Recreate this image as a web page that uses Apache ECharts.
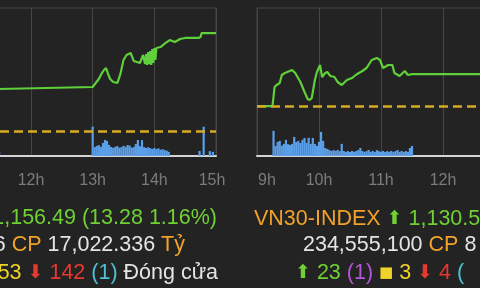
<!DOCTYPE html>
<html><head><meta charset="utf-8">
<script src="https://cdn.jsdelivr.net/npm/echarts@6/dist/echarts.min.js"></script>
<style>
html,body{margin:0;padding:0;width:480px;height:288px;overflow:hidden;background:#232323;}
#c{position:absolute;left:-200px;top:0;width:900px;height:288px;}
</style></head><body><div id="c"></div>
<script>
// Tick labels (9h .. 15h), x values are minutes since midnight
const hourLabels = ['9h','10h','11h','12h','13h','14h','15h'];

// VN-INDEX (left panel)
const vnRef = 1143.21;
const vnTimes = [689,690,780,783,786,789,791,793,795,797,800,804,807,810,813,817,820,823,826,829,831,832,833,834,835,836,837,838,839,840,841,842,846,851,855,860,865,870,876,883,885,886,900];
const vnValues = [1148.90,1149.17,1149.17,1149.71,1150.26,1151.07,1151.48,1151.75,1150.94,1150.26,1149.85,1149.71,1150.94,1152.84,1153.52,1153.79,1152.70,1152.57,1152.43,1153.52,1152.29,1153.65,1152.16,1153.92,1152.29,1154.06,1152.16,1154.33,1152.43,1154.47,1152.84,1154.47,1154.60,1155.15,1155.55,1155.28,1155.69,1155.83,1155.83,1155.83,1155.96,1156.49,1156.49];
const vnVolTimes = [689,780,782,784,786,788,790,792,794,796,798,800,802,804,806,808,810,812,814,816,818,820,822,824,826,828,830,832,834,836,838,840,842,844,846,848,850,852,854,884,888,894,897];
const vnVolumes = [140,990,300,340,370,310,440,545,510,375,305,275,310,335,280,300,345,310,370,350,280,300,405,540,330,535,300,270,295,265,240,270,235,260,210,230,200,180,140,170,990,165,140];

// VN30-INDEX (right panel)
const vn30Ref = 1121.32;
const vn30Times = [540,555,557,559,562,564,567,574,577,582,586,589,591,593,596,598,601,603,606,608,611,615,618,622,627,632,637,642,646,651,656,659,662,667,671,673,678,683,686,690,900];
const vn30Values = [1121.32,1121.32,1126.82,1127.39,1127.96,1130.26,1130.84,1131.70,1130.84,1128.25,1125.38,1123.37,1123.08,1123.66,1128.83,1131.12,1133.13,1129.69,1130.84,1131.12,1129.98,1129.69,1128.25,1127.39,1128.83,1129.40,1130.55,1131.41,1132.27,1134.57,1135.14,1134.57,1132.27,1133.13,1133.13,1130.84,1129.98,1131.41,1130.26,1130.52,1130.52];
const vn30VolTimes = [556,558,560,562,564,566,568,570,572,574,576,578,580,582,584,586,588,590,592,594,596,598,600,602,604,606,608,610,612,614,616,618,620,622,624,626,628,630,632,634,636,638,640,642,644,646,648,650,652,654,656,658,660,662,664,666,668,670,672,674,676,678,680,682,684,686,688,690];
const vn30Volumes = [850,340,475,510,345,410,545,400,375,410,645,475,510,440,545,610,445,615,410,610,405,340,480,815,510,270,240,205,170,200,175,205,165,410,170,140,165,135,170,140,165,200,270,170,140,165,205,140,170,135,200,165,140,170,135,165,140,170,135,165,200,140,170,135,165,140,270,340];

const zip = (a, b) => a.map((t, i) => [t, b[i]]);
const FONT = '"Liberation Sans", Arial, Helvetica, sans-serif';
const AFONT = '"DejaVu Sans", "Noto Sans CJK SC", sans-serif';
const C = { bg:'#232323', green:'#6fd133', line:'#5fcf3a', orange:'#f0a22a', white:'#e4e4e4', red:'#e8392e', cyan:'#4cc2d3', purple:'#b456d8', yellow:'#efd22a', dash:'#d8aa26', vol:'#5b9fe9', grid:'#464646', axis:'#d4d4d4', label:'#7c7c7c' };

function xAxis(gi) {
  return {
    type:'value', gridIndex:gi, min:540, max:900, interval:60,
    axisLine:{show:true, onZero:false, lineStyle:{color:C.axis, width:2}},
    axisTick:{show:false},
    splitLine:{show:true, lineStyle:{color:C.grid, width:1}},
    axisLabel:{
      color:C.label, fontSize:16, fontFamily:FONT, margin:17,
      formatter: v => {
        const s = hourLabels[Math.round((v - 540) / 60)];
        if (v === 540) return '{l|' + s + '}';
        if (v === 900) return '{r|' + s + '}';
        return s;
      },
      rich:{
        l:{color:C.label, fontSize:16, fontFamily:FONT, padding:[0,0,0,20]},
        r:{color:C.label, fontSize:16, fontFamily:FONT, padding:[0,8,0,0]}
      }
    }
  };
}
function priceAxis(gi, min, max) { return {type:'value', gridIndex:gi, min:min, max:max, show:false}; }
function volAxis(gi) { return {type:'value', gridIndex:gi, min:0, max:5000, show:false}; }

function lineSeries(xi, yi, data, ref) {
  return {
    type:'line', xAxisIndex:xi, yAxisIndex:yi, data:data, showSymbol:false, z:3,
    lineStyle:{color:C.line, width:2.2}, animation:false,
    markLine:{symbol:'none', silent:true, label:{show:false}, animation:false,
      lineStyle:{color:C.dash, type:[9,5], width:2.5}, data:[{yAxis:ref}]}
  };
}
function volSeries(xi, yi, data) {
  return { type:'bar', xAxisIndex:xi, yAxisIndex:yi, data:data, barWidth:2.2, z:2,
    itemStyle:{color:C.vol}, animation:false };
}

const base = {fontSize:21.5, fontFamily:FONT, fill:C.white};
const rich = {
  o:{fill:C.orange, fontSize:21.5, fontFamily:FONT},
  g:{fill:C.green, fontSize:21.5, fontFamily:FONT},
  ga:{fill:C.green, fontSize:19, fontFamily:AFONT},
  w:{fill:C.white, fontSize:21.5, fontFamily:FONT},
  r:{fill:C.red, fontSize:21.5, fontFamily:FONT},
  ra:{fill:C.red, fontSize:19, fontFamily:AFONT},
  c:{fill:C.cyan, fontSize:21.5, fontFamily:FONT},
  p:{fill:C.purple, fontSize:21.5, fontFamily:FONT},
  y:{fill:C.yellow, fontSize:21.5, fontFamily:FONT},
  sq:{fill:C.yellow, fontSize:15, fontFamily:AFONT}
};
function txt(x, y, align, text) {
  return {type:'text', x:x, y:y, silent:true, z:10,
    style:Object.assign({text:text, align:align, verticalAlign:'middle', rich:rich}, base)};
}

const chart = echarts.init(document.getElementById('c'), null, {renderer:'canvas'});
chart.setOption({
  backgroundColor:C.bg,
  animation:false,
  grid:[
    {left:46, width:370, top:8, height:148, show:true, borderColor:C.grid, borderWidth:1, backgroundColor:'transparent'},
    {left:457, width:372, top:8, height:148, show:true, borderColor:C.grid, borderWidth:1, backgroundColor:'transparent'}
  ],
  xAxis:[xAxis(0), xAxis(1)],
  yAxis:[priceAxis(0, 1139.8, 1159.9), volAxis(0), priceAxis(1, 1107, 1149.5), volAxis(1)],
  series:[
    volSeries(0, 1, zip(vnVolTimes, vnVolumes)),
    lineSeries(0, 0, zip(vnTimes, vnValues), vnRef),
    volSeries(1, 3, zip(vn30VolTimes, vn30Volumes)),
    lineSeries(1, 2, zip(vn30Times, vn30Values), vn30Ref)
  ],
  graphic:[
    txt(417, 218, 'right', '{o|VN-INDEX} {ga|⬆} {g|1,156.49 (13.28 1.16%)}'),
    txt(385, 245, 'right', '{w|6} {o|CP} {w|17,022.336} {o|Tỷ}'),
    txt(418, 273, 'right', '{y|53} {ra|⬇} {r|142} {c|(1)} {w|Đóng cửa}'),
    txt(454, 219, 'left', '{o|VN30-INDEX} {ga|⬆} {g|1,130.5}'),
    txt(503, 245, 'left', '{w|234,555,100} {o|CP} {w|8}'),
    txt(495, 273, 'left', '{ga|⬆} {g|23} {p|(1)} {sq|■} {y|3} {ra|⬇} {r|4} {c|(}')
  ]
});
</script></body></html>
